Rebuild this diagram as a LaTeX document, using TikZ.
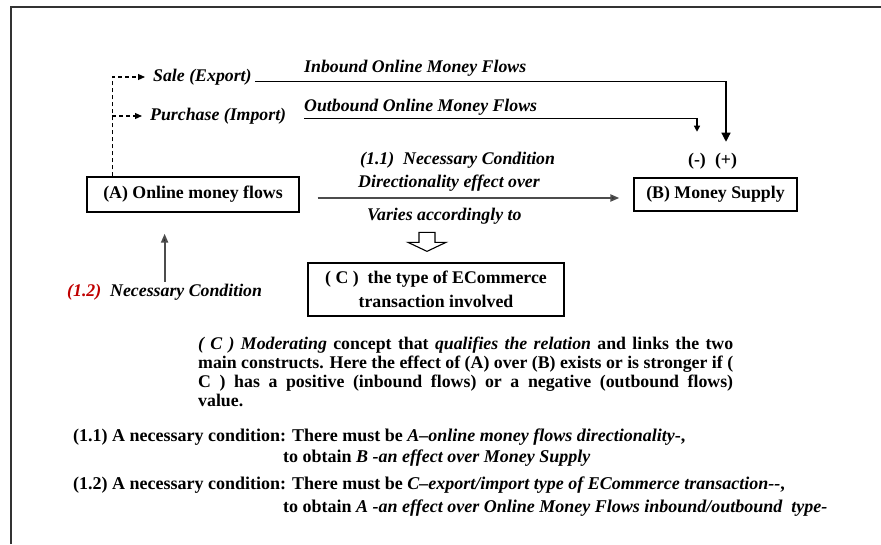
\documentclass[tikz,border=0pt]{standalone}
\usepackage{fontspec}
\setmainfont{Liberation Serif}
\usetikzlibrary{arrows.meta,calc}
\definecolor{darkred}{RGB}{192,0,0}
\newcommand\myfs{\fontsize{17.8}{19}\selectfont}
\newcommand\botfs{\fontsize{18}{19}\selectfont}
\begin{document}
\begin{tikzpicture}[x=1pt,y=-1pt,
  box/.style={draw, line width=1.3pt, inner sep=0pt, font=\bfseries\myfs, align=center},
  lbl/.style={inner sep=0pt, font=\bfseries\itshape\myfs, anchor=west},
  txt/.style={inner sep=0pt, font=\bfseries\myfs, anchor=west},
  bot/.style={inner sep=0pt, font=\bfseries\botfs, anchor=west},
  conn/.style={line width=1.2pt},
  dsh/.style={line width=1.1pt, dash pattern=on 4pt off 3pt, -{Triangle[length=7pt,width=6pt]}},
  dbl/.style={line width=2pt, draw=black!70, -{Triangle[length=9pt,width=7pt,fill=black]}}]
\useasboundingbox (0,0) rectangle (881,544);
\draw[line width=1.6pt, black!80] (11,544) -- (11,7) -- (881,7);

% boxes
\node[box, minimum width=212pt, minimum height=35pt] (A) at (193,194.5) {(A) Online money flows};
\node[box, minimum width=163pt, minimum height=33pt] (B) at (715.5,194.5) {(B) Money Supply};
\node[box, minimum width=256pt, minimum height=53pt, font=\bfseries\fontsize{17.8}{24}\selectfont] (C) at (436,289.5) {( C )\ \ the type of ECommerce\\transaction involved};

% labels
\node[lbl] (sale) at (153,77) {Sale (Export)};
\node[lbl] (purch) at (150,116) {Purchase (Import)};
\node[lbl] (inb) at (304,68) {Inbound Online Money Flows};
\node[lbl] (outb) at (304,107) {Outbound Online Money Flows};
\node[txt, anchor=center] (minus) at (697,161) {(-)};
\node[txt, anchor=center] (plus) at (726,161) {(+)};
\node[lbl] (n11) at (360,160) {(1.1)\ \ Necessary Condition};
\node[lbl] (dir) at (358,183) {Directionality effect over};
\node[lbl] (var) at (367,216) {Varies accordingly to};
\node[lbl] (n12) at (67,292) {\textcolor{darkred}{(1.2)}\ \ Necessary Condition};

% connectors
\coordinate (dx) at ($(A.north west)+(26,0)$);
\draw[dsh, shorten >=8pt] (dx) |- (sale.west);
\draw[dsh, shorten >=8pt] (dx |- purch.west) -- (purch.west);
\draw[conn, -{Triangle[length=9pt,width=9pt]}] ([xshift=3pt]sale.base east) -| ([yshift=11pt]plus.north);
\draw[conn, -{Triangle[length=6pt,width=6pt]}] ([yshift=2pt]purch.base -| outb.west) -| ([yshift=21pt]minus.north);
\draw[dbl] ($(A.east)+(18,3.5)$) -- ($(B.west)+(-14,3.5)$);
\draw[dbl, shorten >=21pt] ([yshift=2pt]n12.north) -- (n12.north |- A.south);
\begin{scope}[shift={(C.north)}]
\draw[line width=1.1pt, fill=white] (-17,-30) -- (-1,-30) -- (-1,-20) -- (10,-20) -- (-9,-11) -- (-28,-20) -- (-17,-20) -- cycle;
\end{scope}

% paragraph
\node[txt, anchor=north west, text width=535pt, align=justify, font=\bfseries\fontsize{17.8}{19}\selectfont] (para) at (198,337)
{\hbadness=10000 {\itshape ( C ) Moderating} concept that {\itshape qualifies the relation} and links the two\linebreak main constructs. Here the effect of (A) over (B) exists or is stronger if (\linebreak C ) has a positive (inbound flows) or a negative (outbound flows)\linebreak value.};

\node[bot] (c11a) at (73,437) {(1.1) A necessary condition: There must be \textit{A–online money flows directionality}-,};
\node[bot] (c11b) at (283,458) {to obtain \textit{B -an effect over Money Supply}};
\node[bot] (c12a) at (73,485) {(1.2) A necessary condition: There must be \textit{C–export/import type of ECommerce transaction-{}-},};
\node[bot] (c12b) at (283,508) {to obtain \textit{A -an effect over Online Money Flows inbound/outbound\ \ type-}};
\end{tikzpicture}
\end{document}
